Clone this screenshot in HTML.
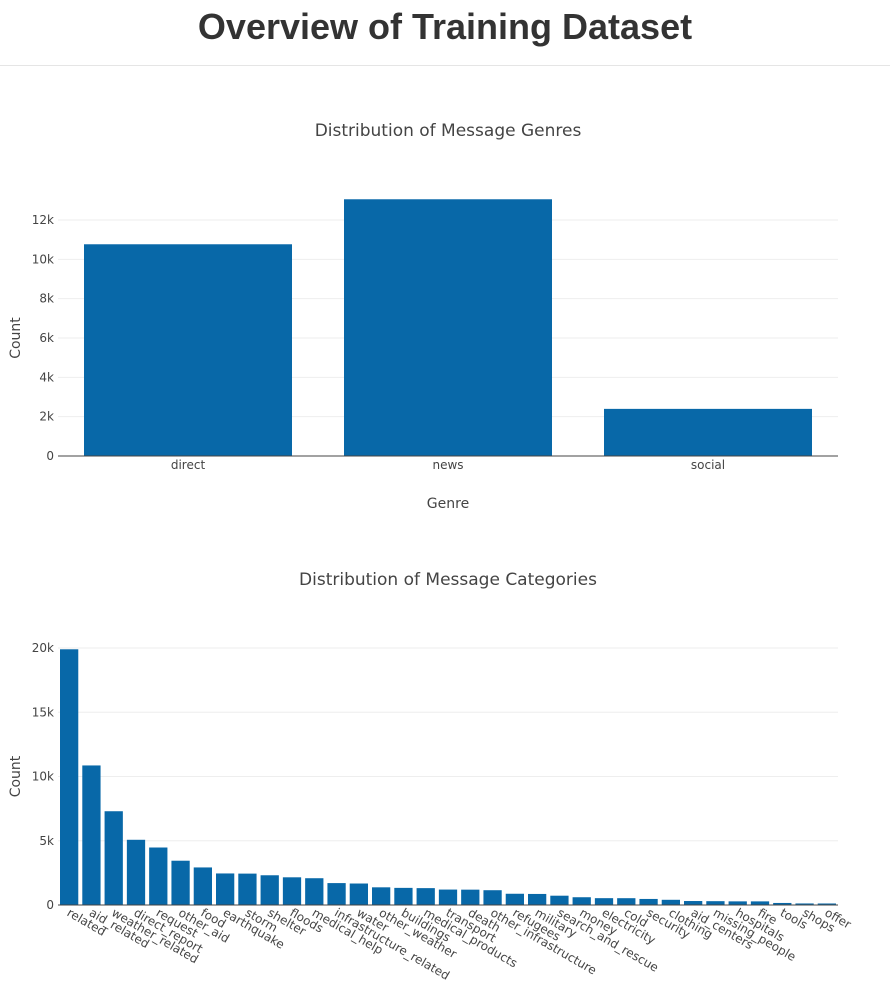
<!DOCTYPE html>
<html><head><meta charset="utf-8"><style>
body{margin:0;background:#fff;width:890px;height:987px;overflow:hidden;font-family:"Liberation Sans","DejaVu Sans",sans-serif;}
h1{margin:0;position:absolute;top:6px;left:0;width:890px;text-align:center;font-size:36px;font-weight:bold;color:#333;}
#rule{position:absolute;top:65px;left:0;width:890px;height:1px;background:#e5e5e5;}
svg{position:absolute;left:0;top:0;}
text{font-family:"DejaVu Sans","Liberation Sans",sans-serif;fill:#444;}
</style></head><body>
<h1>Overview of Training Dataset</h1>
<div id="rule"></div>
<svg id="chart" width="890" height="987"></svg>
<script>
const genreNames = ["direct","news","social"];
const genreCounts = [10766,13054,2396];
const genreTicks = [0,2000,4000,6000,8000,10000,12000];
const genreTickLabels = ["0","2k","4k","6k","8k","10k","12k"];

const catNames = ["related","aid_related","weather_related","direct_report","request","other_aid","food","earthquake","storm","shelter","floods","medical_help","infrastructure_related","water","other_weather","buildings","medical_products","transport","death","other_infrastructure","refugees","military","search_and_rescue","money","electricity","cold","security","clothing","aid_centers","missing_people","hospitals","fire","tools","shops","offer"];
const catCounts = [19900,10860,7297,5075,4474,3446,2923,2455,2443,2314,2155,2084,1705,1672,1376,1333,1313,1201,1194,1151,875,860,724,604,532,530,471,405,309,298,283,282,159,120,118];
const catTicks = [0,5000,10000,15000,20000];
const catTickLabels = ["0","5k","10k","15k","20k"];

const NS="http://www.w3.org/2000/svg";
const svg=document.getElementById('chart');
function mk(tag,attrs,parent){const e=document.createElementNS(NS,tag);for(const k in attrs)e.setAttribute(k,attrs[k]);(parent||svg).appendChild(e);return e;}

function drawChart(cfg){
  const {x0,x1,y0,yTop,maxV,names,vals,ticks,tickLabels,title,titleY,xTitle,gap,rot,prefix}=cfg;
  const yScale=v=>y0-(v/maxV)*(y0-yTop);
  const n=names.length, step=(x1-x0)/n;
  const xScale=i=>x0+step*(i+0.5);
  const g=mk('g',{});
  
  
  const t=mk('text',{x:448,y:titleY,'text-anchor':'middle','font-size':17},g);
  t.textContent=title;
  
  
  ticks.forEach((v,i)=>{
    const y=yScale(v);
    if(v>0){const l=mk('line',{x1:x0,x2:x1,y1:y,y2:y,stroke:'#eee','stroke-width':1},g);
      
      }
    const tl=mk('text',{x:x0-4,y:y+4,'text-anchor':'end','font-size':12},g);
    tl.textContent=tickLabels[i];
    
    
  });
  const bw=step*(1-gap);
  vals.forEach((v,i)=>{
    const r=mk('rect',{x:xScale(i)-bw/2,y:yScale(v),width:bw,height:y0-yScale(v),fill:'#0868a8'},g);
    
    
    let lab;
    if(rot){
      lab=mk('text',{x:0,y:0,'font-size':12,transform:`translate(${xScale(i)-3},${y0+10}) rotate(30)`},g);
    } else {
      lab=mk('text',{x:xScale(i),y:y0+13,'text-anchor':'middle','font-size':12},g);
    }
    lab.textContent=names[i];
    
    
  });
  const ax=mk('line',{x1:x0,x2:x1,y1:y0,y2:y0,stroke:'#444','stroke-width':1},g);
  
  
  const yt=mk('text',{x:0,y:0,'text-anchor':'middle','font-size':14,transform:`translate(20,${(y0+yTop)/2}) rotate(-90)`},g);
  yt.textContent='Count';
  
  
  if(xTitle){const xt=mk('text',{x:448,y:508,'text-anchor':'middle','font-size':14},g);
    xt.textContent=xTitle;
    
    }
}
drawChart({x0:58,x1:838,y0:456,yTop:220,maxV:12000,names:genreNames,vals:genreCounts,ticks:genreTicks,tickLabels:genreTickLabels,title:'Distribution of Message Genres',titleY:136,xTitle:'Genre',gap:0.2,rot:false,prefix:'genre'});
drawChart({x0:58,x1:838,y0:905,yTop:648,maxV:20000,names:catNames,vals:catCounts,ticks:catTicks,tickLabels:catTickLabels,title:'Distribution of Message Categories',titleY:585,xTitle:null,gap:0.18,rot:true,prefix:'category'});
</script>
</body></html>
